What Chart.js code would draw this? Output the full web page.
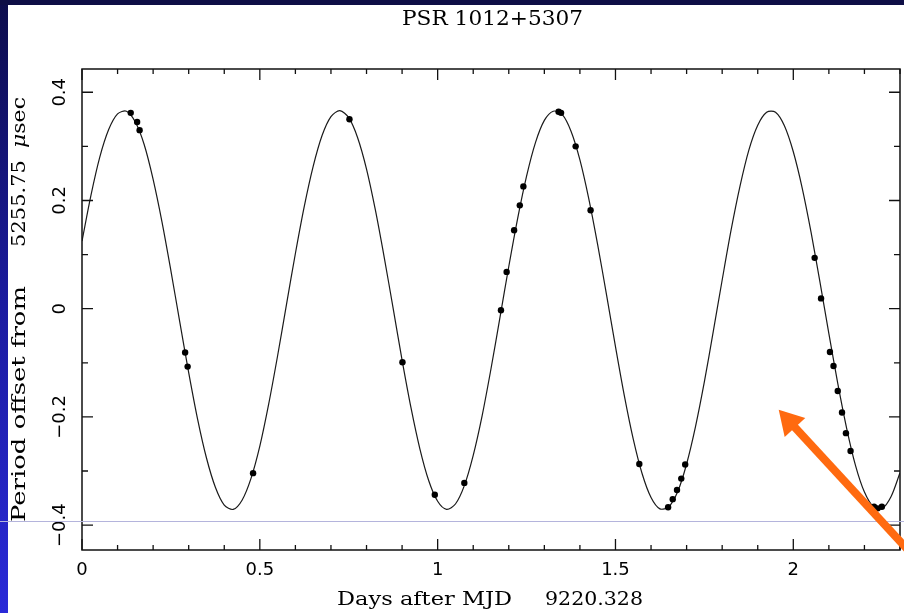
<!DOCTYPE html>
<html lang="en">
<head>
    <meta charset="UTF-8">
    <title>PSR 1012+5307</title>
    <style>
        html, body {
            margin: 0;
            padding: 0;
            background-color: #fff;
            overflow: hidden;
        }
        canvas {
            display: block;
        }
    </style>
    <script src="https://cdnjs.cloudflare.com/ajax/libs/Chart.js/4.4.1/chart.umd.min.js"></script>
</head>
<body>
    <canvas id="psrChart" width="904" height="613"></canvas>

    <script>
        // Model curve
        const modelDays = [0, 0.025, 0.05, 0.075, 0.1, 0.125, 0.15, 0.175, 0.2, 0.225,
            0.25, 0.275, 0.3, 0.325, 0.35, 0.375, 0.4, 0.425, 0.45, 0.475,
            0.5, 0.525, 0.55, 0.575, 0.6, 0.625, 0.65, 0.675, 0.7, 0.725,
            0.75, 0.775, 0.8, 0.825, 0.85, 0.875, 0.9, 0.925, 0.95, 0.975,
            1, 1.025, 1.05, 1.075, 1.1, 1.125, 1.15, 1.175, 1.2, 1.225,
            1.25, 1.275, 1.3, 1.325, 1.35, 1.375, 1.4, 1.425, 1.45, 1.475,
            1.5, 1.525, 1.55, 1.575, 1.6, 1.625, 1.65, 1.675, 1.7, 1.725,
            1.75, 1.775, 1.8, 1.825, 1.85, 1.875, 1.9, 1.925, 1.95, 1.975,
            2, 2.025, 2.05, 2.075, 2.1, 2.125, 2.15, 2.175, 2.2, 2.225,
            2.25, 2.275, 2.3];
        const modelOffset = [0.125, 0.209, 0.280, 0.331, 0.360, 0.365, 0.345, 0.303, 0.239, 0.160,
            0.070, -0.025, -0.118, -0.204, -0.276, -0.330, -0.363, -0.371, -0.354, -0.314,
            -0.254, -0.176, -0.087, 0.008, 0.102, 0.189, 0.263, 0.320, 0.355, 0.366,
            0.353, 0.316, 0.258, 0.182, 0.094, 0.000, -0.095, -0.183, -0.259, -0.318,
            -0.356, -0.371, -0.361, -0.327, -0.271, -0.198, -0.111, -0.017, 0.078, 0.167,
            0.245, 0.307, 0.348, 0.365, 0.359, 0.328, 0.275, 0.203, 0.118, 0.025,
            -0.070, -0.161, -0.241, -0.305, -0.349, -0.370, -0.366, -0.338, -0.287, -0.218,
            -0.135, -0.042, 0.053, 0.145, 0.226, 0.293, 0.339, 0.363, 0.363, 0.338,
            0.290, 0.223, 0.141, 0.049, -0.046, -0.138, -0.221, -0.290, -0.339, -0.366,
            -0.369, -0.347, -0.303];

        // Measured period offsets
        const obsDays = [0.137, 0.155, 0.162, 0.290, 0.297, 0.481, 0.752, 0.901, 0.992, 1.075,
            1.178, 1.194, 1.215, 1.231, 1.241, 1.340, 1.347, 1.388, 1.430,
            1.567, 1.648, 1.661, 1.673, 1.685, 1.696,
            2.060, 2.078, 2.103, 2.113, 2.125, 2.137, 2.148, 2.161, 2.227, 2.237, 2.249];
        const obsOffset = [0.362, 0.345, 0.330, -0.081, -0.107, -0.304, 0.350, -0.099, -0.344, -0.322,
            -0.003, 0.068, 0.145, 0.191, 0.226, 0.364, 0.362, 0.300, 0.182,
            -0.287, -0.367, -0.352, -0.335, -0.314, -0.288,
            0.094, 0.019, -0.080, -0.106, -0.152, -0.192, -0.230, -0.263, -0.366, -0.369, -0.366];

        // Axes
        const xTicks = [0, 0.5, 1, 1.5, 2];
        const xTickLabels = ['0', '0.5', '1', '1.5', '2'];
        const yTicks = [-0.4, -0.2, 0, 0.2, 0.4];
        const yTickLabels = ['\u22120.4', '\u22120.2', '0', '0.2', '0.4'];
        const xRange = [0, 2.3];
        const yRange = [-0.446, 0.443];

        // Slide decorations (value coordinates)
        const slideLineOffset = -0.392;
        const arrowTip = { x: 1.959, y: -0.187 };
        const arrowTail = { x: 2.335, y: -0.455 };

        const serif = '"DejaVu Serif", "Liberation Serif", serif';
        const sans = '"DejaVu Sans", "Liberation Sans", sans-serif';

        // draw text squeezed/stretched to a given width
        function fitText(ctx, parts, x, y, w, rotate) {
            ctx.save();
            let total = 0;
            parts.forEach(p => { ctx.font = p.font; total += ctx.measureText(p.text).width; });
            ctx.translate(x, y);
            if (rotate) ctx.rotate(-Math.PI / 2);
            ctx.scale(w / total, 1);
            ctx.textAlign = 'left';
            ctx.textBaseline = 'alphabetic';
            let pos = 0;
            parts.forEach(p => {
                ctx.font = p.font;
                ctx.fillText(p.text, pos, 0);
                pos += ctx.measureText(p.text).width;
            });
            ctx.restore();
        }

        const slidePlugin = {
            id: 'slide',
            beforeDraw(chart) {
                const { ctx, width, height } = chart;
                ctx.save();
                ctx.fillStyle = '#ffffff';
                ctx.fillRect(0, 0, width, height);
                const g = ctx.createLinearGradient(0, 0, 0, height);
                g.addColorStop(0, '#0d0d4c');
                g.addColorStop(0.5, '#1b1ba0');
                g.addColorStop(1, '#2a2ad8');
                ctx.fillStyle = g;
                ctx.fillRect(0, 0, 8, height);
                ctx.fillStyle = '#0e0e46';
                ctx.fillRect(0, 0, width, 5);
                ctx.restore();
            },
            afterDatasetsDraw(chart) {
                const { ctx, chartArea: a, scales } = chart;
                const xs = scales.x, ys = scales.y;
                ctx.save();

                // frame
                ctx.strokeStyle = '#111';
                ctx.lineWidth = 1.5;
                ctx.strokeRect(a.left, a.top, a.right - a.left, a.bottom - a.top);

                // inward ticks on all four sides
                ctx.lineWidth = 1.3;
                ctx.beginPath();
                for (let i = 0; i <= 23; i++) {
                    const px = xs.getPixelForValue(i / 10);
                    const len = i % 5 === 0 ? 11 : 5;
                    ctx.moveTo(px, a.bottom); ctx.lineTo(px, a.bottom - len);
                    ctx.moveTo(px, a.top); ctx.lineTo(px, a.top + len);
                }
                for (let i = -4; i <= 4; i++) {
                    const py = ys.getPixelForValue(i / 10);
                    const len = i % 2 === 0 ? 11 : 6;
                    ctx.moveTo(a.left, py); ctx.lineTo(a.left + len, py);
                    ctx.moveTo(a.right, py); ctx.lineTo(a.right - len, py);
                }
                ctx.stroke();

                // tick labels
                ctx.fillStyle = '#000';
                ctx.font = '18px ' + sans;
                ctx.textAlign = 'center';
                ctx.textBaseline = 'alphabetic';
                xTicks.forEach((v, i) => {
                    ctx.fillText(xTickLabels[i], xs.getPixelForValue(v), 575);
                });
                yTicks.forEach((v, i) => {
                    ctx.save();
                    ctx.translate(65, ys.getPixelForValue(v));
                    ctx.rotate(-Math.PI / 2);
                    ctx.fillText(yTickLabels[i], 0, 0);
                    ctx.restore();
                });

                // titles
                fitText(ctx, [{ text: 'PSR 1012+5307', font: '20px ' + serif }], 402, 25, 181);
                fitText(ctx, [{ text: 'Days after MJD', font: '18px ' + serif }], 337, 605, 175);
                fitText(ctx, [{ text: '9220.328', font: '18px ' + serif }], 545, 605, 98);
                fitText(ctx, [{ text: 'Period offset from', font: '19px ' + serif }], 25, 522, 236, true);
                fitText(ctx, [{ text: '5255.75', font: '19px ' + serif }], 25, 247, 87, true);
                fitText(ctx, [{ text: '\u03bc', font: 'italic 19px ' + serif },
                              { text: 'sec', font: '19px ' + serif }], 25, 148, 51, true);

                // faint slide guide line
                const ly = Math.round(ys.getPixelForValue(slideLineOffset)) + 0.5;
                ctx.strokeStyle = '#b4b4dc';
                ctx.lineWidth = 1;
                ctx.beginPath();
                ctx.moveTo(0, ly);
                ctx.lineTo(chart.width, ly);
                ctx.stroke();

                // orange arrow
                const tx = xs.getPixelForValue(arrowTip.x), ty = ys.getPixelForValue(arrowTip.y);
                const ex = xs.getPixelForValue(arrowTail.x), ey = ys.getPixelForValue(arrowTail.y);
                const ang = Math.atan2(ey - ty, ex - tx);
                const headLen = 24, headHalf = 14;
                const bx = tx + headLen * Math.cos(ang), by = ty + headLen * Math.sin(ang);
                ctx.strokeStyle = '#ff6a10';
                ctx.fillStyle = '#ff6a10';
                ctx.lineWidth = 8;
                ctx.beginPath();
                ctx.moveTo(bx - 2 * Math.cos(ang), by - 2 * Math.sin(ang));
                ctx.lineTo(ex, ey);
                ctx.stroke();
                ctx.beginPath();
                ctx.moveTo(tx, ty);
                ctx.lineTo(bx - headHalf * Math.sin(ang), by + headHalf * Math.cos(ang));
                ctx.lineTo(bx + headHalf * Math.sin(ang), by - headHalf * Math.cos(ang));
                ctx.closePath();
                ctx.fill();

                ctx.restore();
            }
        };

        const ctx = document.getElementById('psrChart').getContext('2d');
        const psrChart = new Chart(ctx, {
            type: 'scatter',
            data: {
                datasets: [{
                    label: 'Measured',
                    data: obsDays.map((d, i) => ({ x: d, y: obsOffset[i] })),
                    backgroundColor: '#000',
                    borderWidth: 0,
                    pointRadius: 3.2,
                    order: 0
                }, {
                    label: 'Model',
                    data: modelDays.map((d, i) => ({ x: d, y: modelOffset[i] })),
                    showLine: true,
                    borderColor: '#1a1a1a',
                    borderWidth: 1.2,
                    pointRadius: 0,
                    tension: 0.3,
                    order: 1
                }]
            },
            options: {
                responsive: false,
                devicePixelRatio: 1,
                animation: false,
                events: [],
                layout: {
                    padding: { left: 82, top: 69, right: 1, bottom: 63 }
                },
                scales: {
                    x: { type: 'linear', min: xRange[0], max: xRange[1], display: false },
                    y: { type: 'linear', min: yRange[0], max: yRange[1], display: false }
                },
                plugins: {
                    legend: { display: false },
                    tooltip: { enabled: false },
                    title: { display: false }
                }
            },
            plugins: [slidePlugin]
        });
    </script>
</body>
</html>
